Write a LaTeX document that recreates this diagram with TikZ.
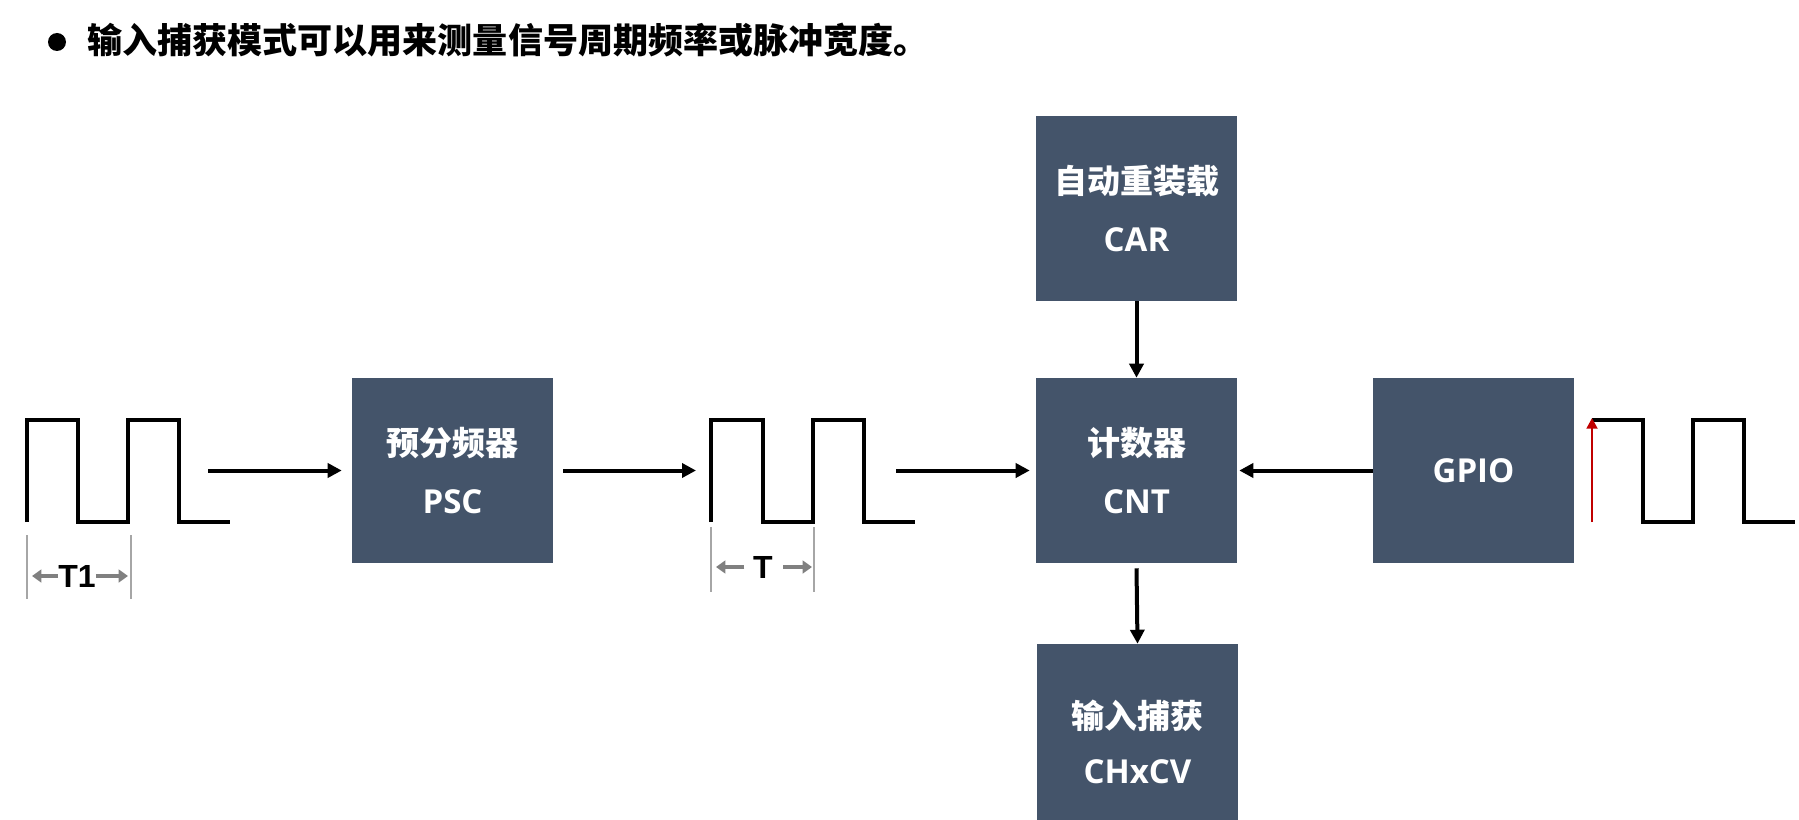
\documentclass[tikz,border=0pt]{standalone}
\usepackage{fontspec}
\newfontfamily\cjk{Noto Sans CJK SC}
\newfontfamily\cjkheavy{Noto Sans CJK SC}[UprightFont={* Black}]
\newfontfamily\latin{Open Sans}
\newfontfamily\arial{Liberation Sans}
\usetikzlibrary{arrows.meta}
\definecolor{boxc}{HTML}{44546A}
\definecolor{tickgray}{HTML}{A6A6A6}
\definecolor{arrgray}{HTML}{808080}
\definecolor{darkred}{HTML}{C00000}
\begin{document}
\begin{tikzpicture}[x=0.75pt,y=-0.75pt,
  blk/.style={fill=boxc, minimum width=150.75pt, minimum height=138.75pt, inner sep=0pt, text=white, align=center, font=\cjk\bfseries\fontsize{24.75pt}{46.5pt}\selectfont},
  arr/.style={line width=3pt, -{Triangle[length=10.5pt,width=10.5pt]}},
  wave/.style={line width=3pt, line join=miter},
  tickl/.style={draw=tickgray, line width=1.2pt},
  garr/.style={line width=3.5pt, draw=arrgray, -{Triangle[length=7pt,width=9.5pt]}},
  tlabel/.style={font=\arial\bfseries\fontsize{24pt}{24pt}\selectfont, inner sep=0pt},
  redarr/.style={line width=2.2pt, draw=darkred, -{Triangle[length=8pt,width=8pt]}}]
\useasboundingbox (0,0) rectangle (1799,820);
\fill[white] (0,0) rectangle (1799,820);
% title
\node[circle, fill=black, minimum size=13.5pt, inner sep=0pt] (bullet) at (57,42) {};
\node[anchor=west, inner sep=0pt, font=\cjkheavy\fontsize{26.3pt}{30pt}\selectfont] (title) at (87,40) {输入捕获模式可以用来测量信号周期频率或脉冲宽度。};
% boxes
\node[blk] (psc) at (452.5,470.5) {\raisebox{-3pt}{预分频器}\\{\latin\bfseries PSC}};
\node[blk] (car) at (1136.5,208.5) {\raisebox{-3pt}{自动重装载}\\{\latin\bfseries CAR}};
\node[blk] (cnt) at (1136.5,470.5) {\raisebox{-3pt}{计数器}\\{\latin\bfseries CNT}};
\node[blk] (gpio) at (1473.5,470.5) {{\latin\bfseries GPIO}};
\node[blk] (cap) at (1137.5,736.5) {};
\node[font=\cjk\bfseries\fontsize{24.75pt}{30pt}\selectfont, text=white, inner sep=0pt] (capa) at (1137.5,716) {输入捕获};
\node[font=\latin\bfseries\fontsize{24.75pt}{30pt}\selectfont, text=white, inner sep=0pt] (capb) at (1137.5,772) {CHxCV};
% waves
\draw[wave] (27,522) -- (27,420) -- (78,420) -- (78,522) -- (128,522) -- (128,420) -- (179,420) -- (179,522) -- (230,522);
\draw[wave] (711,522) -- (711,420) -- (763,420) -- (763,522) -- (813,522) -- (813,420) -- (864,420) -- (864,522) -- (915,522);
\draw[wave] (1592,420) -- (1643,420) -- (1643,522) -- (1693,522) -- (1693,420) -- (1744,420) -- (1744,522) -- (1795,522);
\coordinate (rb) at (1592,522);
\coordinate (rt) at (1592,418);
\draw[redarr] (rb) -- (rt);
% period marks
\draw[tickl] (27,535) -- (27,599);
\draw[tickl] (131,535) -- (131,599);
\node[tlabel] (t1) at (77,576) {T1};
\draw[garr] (t1.west) -- (32,576);
\draw[garr] (t1.east) -- (128,576);
\draw[tickl] (711,527) -- (711,592);
\draw[tickl] (814,527) -- (814,592);
\node[tlabel] (t) at (763,567) {T};
\coordinate (tl) at (716,567);
\coordinate (tr) at (812,567);
\draw[garr] ([xshift=-14pt]t.center) -- (tl);
\draw[garr] ([xshift=15pt]t.center) -- (tr);
% connectors
\coordinate (w1o) at (208,470.5);
\coordinate (w2i) at (696,470.5);
\coordinate (w2o) at (896,470.5);
\draw[arr] (w1o) -- ([xshift=-7.5pt]psc.west);
\draw[arr] ([xshift=7.5pt]psc.east) -- (w2i);
\draw[arr] (w2o) -- ([xshift=-4.5pt]cnt.west);
\draw[arr] (gpio.west) -- ([xshift=1.5pt]cnt.east);
\draw[arr] (car.south) -- (cnt.north);
\draw[arr] ([yshift=-3.75pt]cnt.south) -- (cap.north);
\end{tikzpicture}
\end{document}
